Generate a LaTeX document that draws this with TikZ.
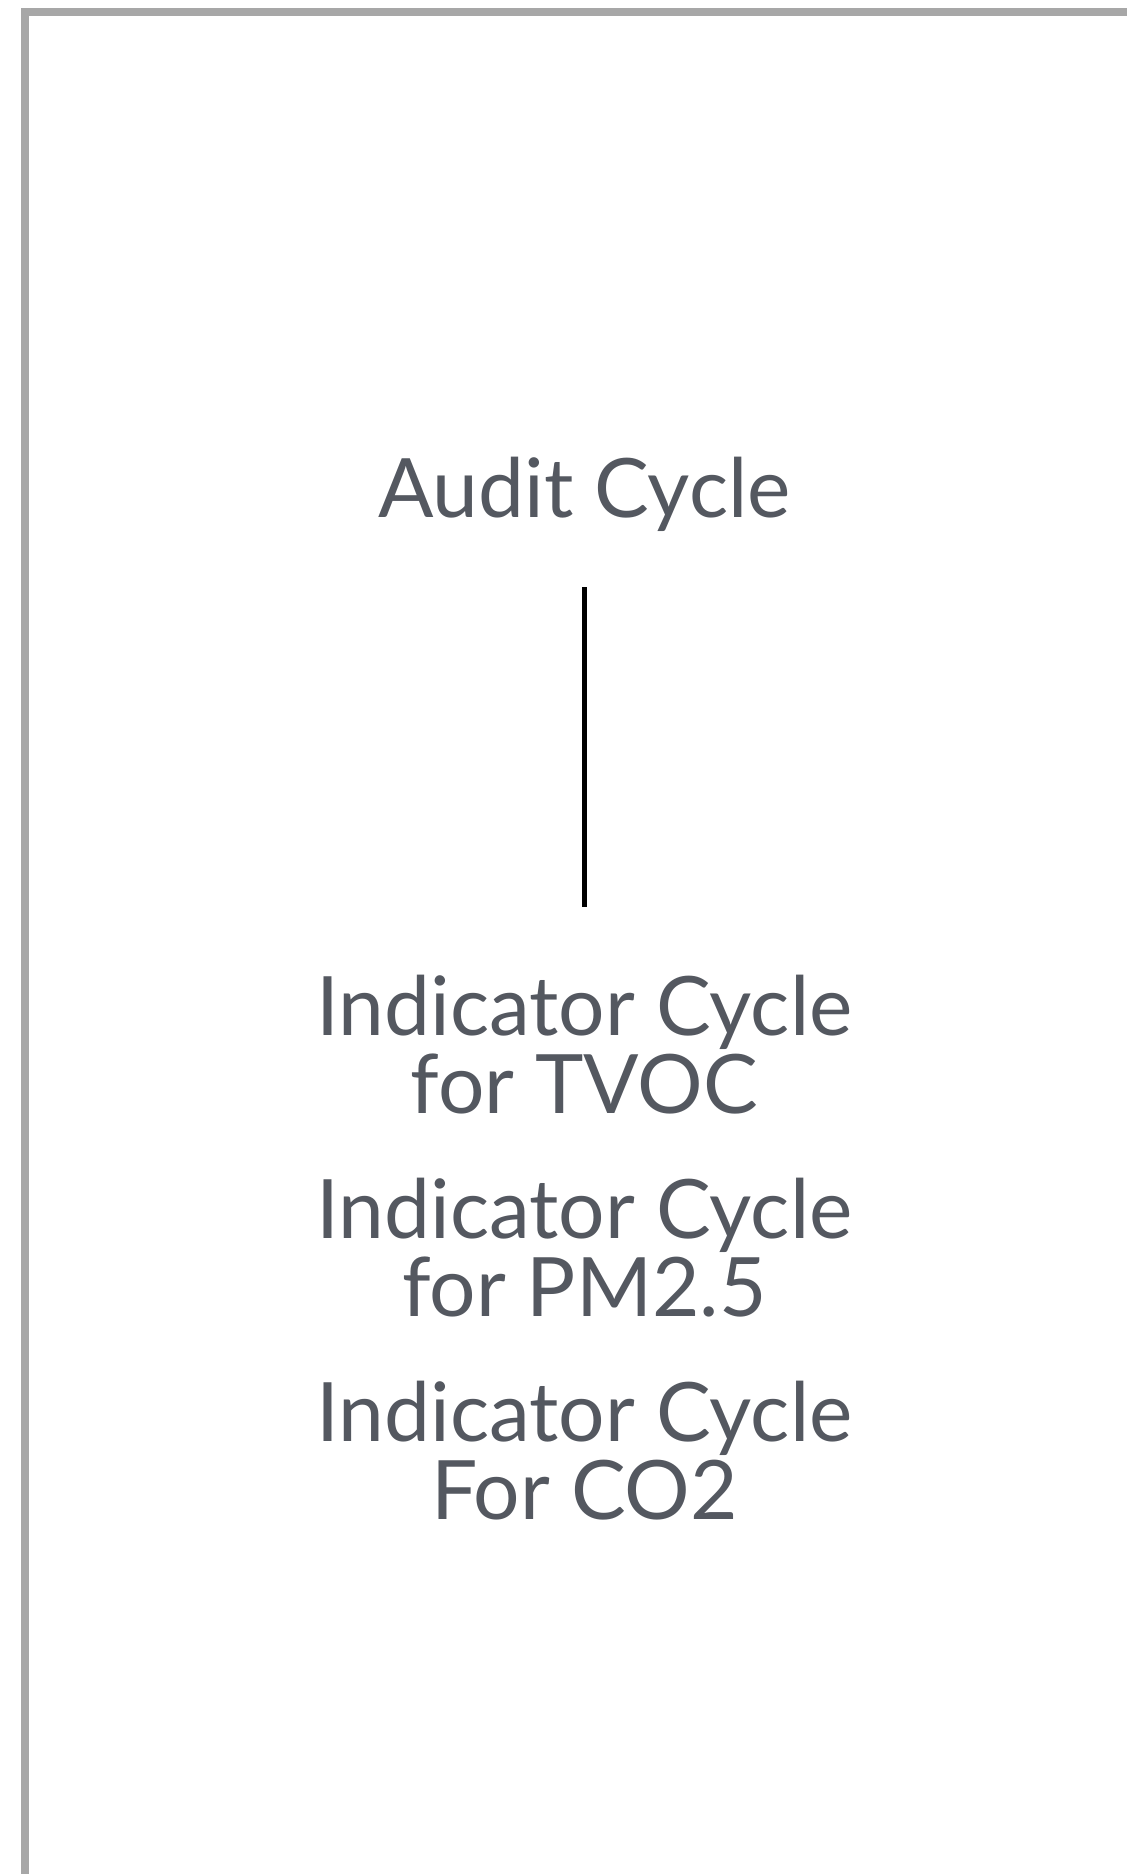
\documentclass[tikz,border=0pt]{standalone}
\usepackage{fontspec}
\setmainfont{Lato}
\definecolor{slate}{HTML}{545860}
\definecolor{framegray}{HTML}{A7A7A7}

\begin{document}
\begin{tikzpicture}[x=1pt,y=1pt,
  every node/.style={inner sep=0pt,text=slate,align=center,font=\fontsize{82}{78}\selectfont},
  framebox/.style={draw=framegray,line width=8pt},
  link/.style={line width=5.5pt,shorten <=56pt,shorten >=67pt}]
  \useasboundingbox (0,0) rectangle (1127,-1874);
  \clip (0,0) rectangle (1127,-1874);
  \draw[framebox] (25.3,-12) rectangle (1200,-1950);
  \node[anchor=base] (audit) at (584.5,-517) {Audit Cycle};
  % base of a two-line node sits on its last line
  \foreach \n/\y/\t in {tvoc/1113/for TVOC, pm/1316/for PM2.5, co/1519/For CO2}
    \node[anchor=base] (\n) at (584.5,-\y) {Indicator Cycle\\\t};
  \draw[link] (audit.south) -- (tvoc.north);
\end{tikzpicture}
\end{document}
